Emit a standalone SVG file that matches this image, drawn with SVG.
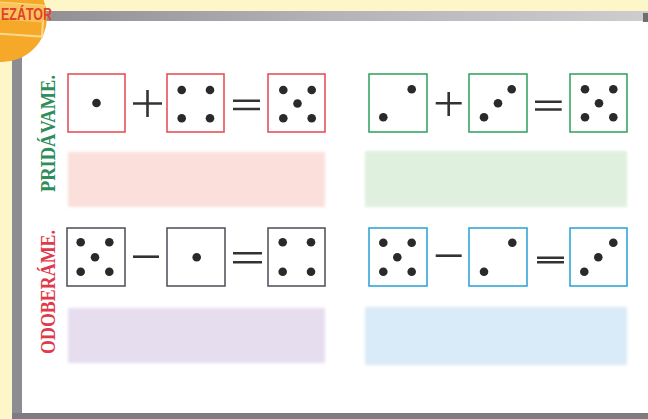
<svg xmlns="http://www.w3.org/2000/svg" width="648" height="419" viewBox="0 0 648 419">
<style>
.box{fill:#fff;stroke-width:1.6}
.r{stroke:#e4535b}.g{stroke:#3aa565}.p{stroke:#5a5560}.b{stroke:#34a6d6}
.d{fill:#2a2a2a}
.op{stroke:#333;stroke-width:2.6;fill:none;stroke-linecap:butt}
.lbl{font-family:"Liberation Serif",serif;font-weight:bold;font-size:22px}
</style>
<defs>
<linearGradient id="topbar" x1="0" x2="1" y1="0" y2="0">
<stop offset="0" stop-color="#8e8e92"/><stop offset="0.5" stop-color="#b4b4b8"/><stop offset="1" stop-color="#cdcdd0"/>
</linearGradient>
<filter id="blur" x="-5%" y="-10%" width="110%" height="120%"><feGaussianBlur stdDeviation="1.6"/></filter>
</defs>
<rect width="648" height="419" fill="#fdf6c9"/>
<rect x="20" y="20" width="628" height="395" fill="#fff"/>
<rect x="20" y="11" width="628" height="10" fill="url(#topbar)"/>
<rect x="643" y="13" width="5" height="9" fill="#6e6e72"/>
<rect x="12" y="14" width="10" height="405" fill="#8c8c93"/>
<rect x="12" y="413" width="636" height="6" fill="#7c7c82"/>
<g id="badge">
<circle cx="2" cy="17" r="45" fill="#f6a829"/>
<g transform="rotate(4 20 20)">
<rect x="-12" y="4" width="55" height="31" fill="none" stroke="#fbd98a" stroke-width="2"/>
<rect x="-12" y="4" width="55" height="17" fill="#f9c45c"/>
</g>
<text x="1" y="20" font-family="Liberation Sans,sans-serif" font-weight="bold" font-size="16" fill="#e2412d" textLength="51" lengthAdjust="spacingAndGlyphs">EZÁTOR</text>
</g>
<g id="label-pridavame"><text class="lbl" fill="#2e8d5a" transform="translate(55,192) rotate(-90)" textLength="117" lengthAdjust="spacingAndGlyphs">PRIDÁVAME.</text></g>
<g id="label-odoberame"><text class="lbl" fill="#e0394a" transform="translate(55,354) rotate(-90)" textLength="124" lengthAdjust="spacingAndGlyphs">ODOBERÁME.</text></g>
<g id="answer-boxes" filter="url(#blur)">
<rect x="68" y="152" width="257" height="55" fill="#fbdfdb"/>
<rect x="365" y="151" width="262" height="56" fill="#dff0de"/>
<rect x="68" y="308" width="257" height="55" fill="#e6ddef"/>
<rect x="365" y="307" width="262" height="58" fill="#d9eaf8"/>
</g>
<g id="row1-left">
<g id="die-r1"><rect class="box r" x="68" y="74" width="57" height="58"/><circle class="d" cx="96.5" cy="103" r="4.3"/></g>
<path class="op" d="M133 103.5H162M147.5 90V117"/>
<g id="die-r2"><rect class="box r" x="167" y="74" width="57" height="58"/><circle class="d" cx="181.7" cy="90" r="4.3"/><circle class="d" cx="210" cy="90" r="4.3"/><circle class="d" cx="181.7" cy="118.3" r="4.3"/><circle class="d" cx="210" cy="118.3" r="4.3"/></g>
<path class="op" d="M233 100.7H260M233 109H260" stroke-width="3"/>
<g id="die-r3"><rect class="box r" x="268" y="74" width="57" height="58"/><circle class="d" cx="283.3" cy="90" r="4.3"/><circle class="d" cx="311.7" cy="90" r="4.3"/><circle class="d" cx="297.5" cy="103.5" r="4.3"/><circle class="d" cx="283.3" cy="118.3" r="4.3"/><circle class="d" cx="311.7" cy="118.3" r="4.3"/></g>
</g>
<g id="row1-right">
<g id="die-g1"><rect class="box g" x="369" y="74" width="58" height="58"/><circle class="d" cx="411.7" cy="89.3" r="4.3"/><circle class="d" cx="383.3" cy="117.3" r="4.3"/></g>
<path class="op" d="M435.7 103.3H461.7M448.7 92V116"/>
<g id="die-g2"><rect class="box g" x="469" y="74" width="58" height="58"/><circle class="d" cx="511.7" cy="89.3" r="4.3"/><circle class="d" cx="498" cy="103.3" r="4.3"/><circle class="d" cx="484" cy="117.3" r="4.3"/></g>
<path class="op" d="M535 101.7H561.7M535 109.5H561.7" stroke-width="3"/>
<g id="die-g3"><rect class="box g" x="570" y="74" width="57" height="58"/><circle class="d" cx="585" cy="89.3" r="4.3"/><circle class="d" cx="613.3" cy="89.3" r="4.3"/><circle class="d" cx="599" cy="103.3" r="4.3"/><circle class="d" cx="585" cy="117.3" r="4.3"/><circle class="d" cx="613.3" cy="117.3" r="4.3"/></g>
</g>
<g id="row2-left">
<g id="die-p1"><rect class="box p" x="67" y="228" width="58" height="58"/><circle class="d" cx="80.7" cy="242.3" r="4.3"/><circle class="d" cx="109.3" cy="242.3" r="4.3"/><circle class="d" cx="95" cy="257.3" r="4.3"/><circle class="d" cx="80.7" cy="271.7" r="4.3"/><circle class="d" cx="109.3" cy="271.7" r="4.3"/></g>
<path class="op" d="M133 256.7H159" stroke-width="3"/>
<g id="die-p2"><rect class="box p" x="167" y="228" width="58" height="58"/><circle class="d" cx="196.7" cy="257.3" r="4.3"/></g>
<path class="op" d="M233 253.3H262M233 262.3H262" stroke-width="3"/>
<g id="die-p3"><rect class="box p" x="268" y="228" width="57" height="58"/><circle class="d" cx="282.7" cy="242.3" r="4.3"/><circle class="d" cx="311" cy="242.3" r="4.3"/><circle class="d" cx="282.7" cy="271.7" r="4.3"/><circle class="d" cx="311" cy="271.7" r="4.3"/></g>
</g>
<g id="row2-right">
<g id="die-b1"><rect class="box b" x="369" y="228" width="58" height="58"/><circle class="d" cx="383.3" cy="242.7" r="4.3"/><circle class="d" cx="411.7" cy="242.7" r="4.3"/><circle class="d" cx="397.3" cy="257.3" r="4.3"/><circle class="d" cx="383.3" cy="271.7" r="4.3"/><circle class="d" cx="411.7" cy="271.7" r="4.3"/></g>
<path class="op" d="M435.7 255.7H461.7" stroke-width="3"/>
<g id="die-b2"><rect class="box b" x="469" y="228" width="58" height="58"/><circle class="d" cx="512.3" cy="242.7" r="4.3"/><circle class="d" cx="484" cy="271.7" r="4.3"/></g>
<path class="op" d="M537 257.7H564M537 262.3H564" stroke-width="3"/>
<g id="die-b3"><rect class="box b" x="570" y="228" width="57" height="58"/><circle class="d" cx="613.3" cy="242.7" r="4.3"/><circle class="d" cx="598.3" cy="257.3" r="4.3"/><circle class="d" cx="584.3" cy="271.7" r="4.3"/></g>
</g>
<g id="connectors"/>
</svg>
